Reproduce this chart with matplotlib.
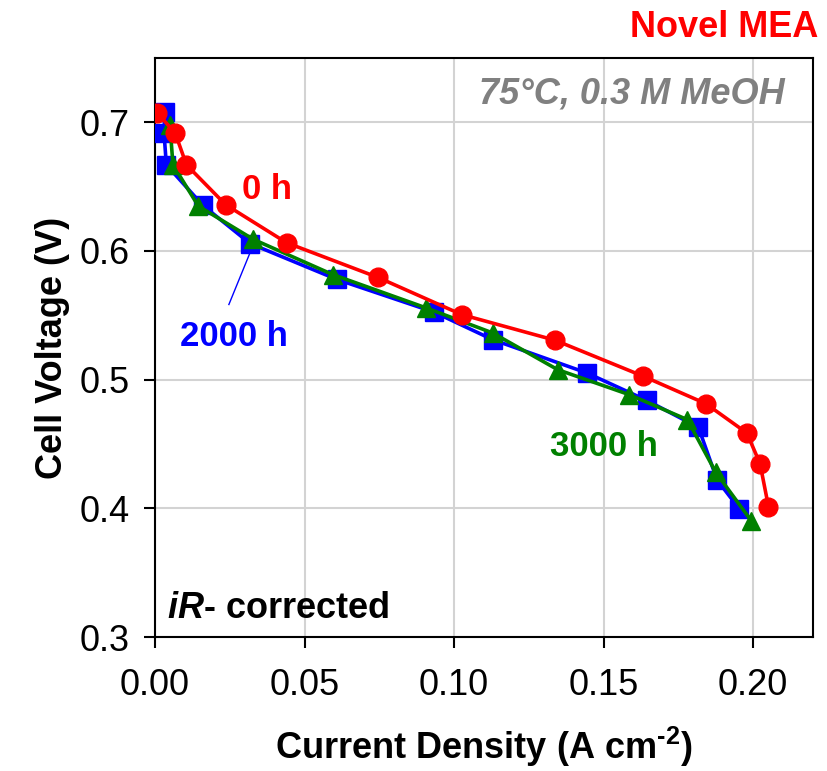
import matplotlib
matplotlib.use('Agg')
import matplotlib.pyplot as plt

plt.rcParams['font.family'] = ['Liberation Sans', 'DejaVu Sans']
plt.rcParams['mathtext.fontset'] = 'custom'
plt.rcParams['mathtext.rm'] = 'Liberation Sans:bold'
plt.rcParams['mathtext.it'] = 'Liberation Sans:italic:bold'

# 0 h
j0 = [0.0006, 0.0067, 0.0105, 0.0236, 0.0440, 0.0746, 0.1025, 0.1338, 0.1633,
      0.1842, 0.1979, 0.2023, 0.2051]
v0 = [0.7075, 0.692, 0.667, 0.636, 0.6064, 0.5794, 0.5506, 0.5306, 0.5026,
      0.4813, 0.4585, 0.4346, 0.4014]

# 2000 h
j2000 = [0.0033, 0.0030, 0.0038, 0.0160, 0.0318, 0.0607, 0.0934, 0.1129, 0.1444,
         0.1644, 0.1817, 0.1879, 0.1954]
v2000 = [0.708, 0.692, 0.667, 0.6354, 0.6058, 0.578, 0.5524, 0.5311, 0.5052,
         0.4839, 0.4629, 0.4222, 0.3994]

# 3000 h
j3000 = [0.0050, 0.0060, 0.0145, 0.0329, 0.0594, 0.0906, 0.1129, 0.1346, 0.1586,
         0.1780, 0.1875, 0.1993]
v3000 = [0.698, 0.667, 0.6349, 0.609, 0.5817, 0.5558, 0.5363, 0.5078, 0.4883,
         0.4689, 0.4279, 0.3905]

xticks = [0.00, 0.05, 0.10, 0.15, 0.20]
yticks = [0.3, 0.4, 0.5, 0.6, 0.7]

fig = plt.figure(figsize=(8.28, 7.71), dpi=100)
ax = fig.add_axes([0.1872, 0.1738, 0.7947, 0.7510])

ax.plot(j2000, v2000, '-s', color='#0000ff', lw=2.6, ms=12.5, zorder=3)
ax.plot(j3000, v3000, '-^', color='#008000', lw=2.6, ms=13, zorder=4)
ax.plot(j0, v0, '-o', color='#ff0000', lw=2.6, ms=13.5, zorder=5)

ax.set_xlim(0, 0.22)
ax.set_ylim(0.3, 0.75)
ax.set_xticks(xticks)
ax.set_yticks(yticks)
ax.set_xticklabels(['%.2f' % t for t in xticks])
ax.set_yticklabels(['%.1f' % t for t in yticks])
ax.tick_params(labelsize=26, length=8, width=1.5, direction='out')
ax.tick_params(axis='x', pad=14)
ax.tick_params(axis='y', pad=10)
ax.grid(True, color='#d3d3d3', lw=1.5)
ax.set_axisbelow(True)
for s in ax.spines.values():
    s.set_linewidth(1.5)

ax.set_xlabel(r'Current Density (A cm$^{\text{-2}}$)', fontsize=26, fontweight='bold')
ax.set_ylabel('Cell Voltage (V)', fontsize=26, fontweight='bold')
ax.xaxis.set_label_coords(0.5, -0.152)
ax.yaxis.set_label_coords(-0.129, 0.5)

ax.text(0.0373, 0.6401, '0 h', color='#ff0000', fontsize=25, fontweight='bold',
        ha='center', va='baseline')
ax.text(0.0263, 0.5259, '2000 h', color='#0000ff', fontsize=25, fontweight='bold',
        ha='center', va='baseline')
ax.text(0.1501, 0.4403, '3000 h', color='#008000', fontsize=25, fontweight='bold',
        ha='center', va='baseline')
ax.plot([0.0318, 0.0247], [0.5988, 0.5584], color='#0000ff', lw=1, zorder=2)

ax.text(0.957, 0.9206, '75°C, 0.3 M MeOH', transform=ax.transAxes, color='#808080',
        fontsize=26, fontweight='bold', style='italic', ha='right', va='baseline')
ax.text(0.018, 0.033, r'$iR$- corrected', transform=ax.transAxes, fontsize=26,
        fontweight='bold', ha='left', va='baseline')
fig.text(0.988, 0.9516, 'Novel MEA', color='#ff0000', fontsize=26, fontweight='bold',
         ha='right', va='baseline')

fig.savefig('out.png', dpi=100)
